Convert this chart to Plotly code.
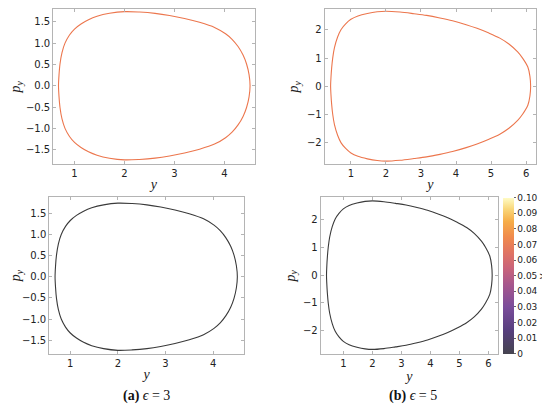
import plotly.graph_objects as go

# ---- orbit data (y, p_y) ----
# epsilon = 3
y_eps3 = [0.68, 0.69, 0.71, 0.75, 0.81, 0.90, 1.00, 1.13, 1.28, 1.45, 1.70, 2.00,
          2.30, 2.61, 2.90, 3.20, 3.50, 3.80, 4.02, 4.15, 4.27, 4.37, 4.44, 4.49, 4.51,
          4.49, 4.44, 4.37, 4.27, 4.15, 4.02, 3.80, 3.50, 3.20, 2.90, 2.61, 2.30, 2.00,
          1.70, 1.45, 1.28, 1.13, 1.00, 0.90, 0.81, 0.75, 0.71, 0.69, 0.68]
py_eps3 = [0.00, 0.25, 0.51, 0.78, 1.00, 1.19, 1.33, 1.45, 1.55, 1.63, 1.70, 1.74,
           1.73, 1.70, 1.65, 1.58, 1.49, 1.37, 1.22, 1.09, 0.92, 0.72, 0.51, 0.26, 0.00,
           -0.26, -0.51, -0.72, -0.92, -1.09, -1.22, -1.37, -1.49, -1.58, -1.65, -1.70, -1.73, -1.74,
           -1.70, -1.63, -1.55, -1.45, -1.33, -1.19, -1.00, -0.78, -0.51, -0.25, 0.00]

# epsilon = 5
y_eps5 = [0.42, 0.43, 0.45, 0.48, 0.53, 0.62, 0.72, 0.85, 1.00, 1.20, 1.47, 1.75, 2.00,
          2.40, 2.80, 3.16, 3.54, 3.90, 4.29, 4.60, 4.94, 5.25, 5.51, 5.76, 5.90, 6.05, 6.11, 6.13,
          6.11, 6.05, 5.90, 5.76, 5.51, 5.25, 4.94, 4.60, 4.29, 3.90, 3.54, 3.16, 2.80, 2.40,
          2.00, 1.75, 1.47, 1.20, 1.00, 0.85, 0.72, 0.62, 0.53, 0.48, 0.45, 0.43, 0.42]
py_eps5 = [0.00, 0.30, 0.65, 1.00, 1.37, 1.75, 2.02, 2.22, 2.38, 2.50, 2.59, 2.65, 2.67,
           2.64, 2.58, 2.52, 2.43, 2.33, 2.19, 2.06, 1.89, 1.71, 1.50, 1.22, 1.00, 0.68, 0.35, 0.00,
           -0.35, -0.68, -1.00, -1.22, -1.50, -1.71, -1.89, -2.06, -2.19, -2.33, -2.43, -2.52, -2.58, -2.64,
           -2.67, -2.65, -2.59, -2.50, -2.38, -2.22, -2.02, -1.75, -1.37, -1.00, -0.65, -0.30, 0.00]

# colour bar (lambda)
lam_ticks = [0, 0.01, 0.02, 0.03, 0.04, 0.05, 0.06, 0.07, 0.08, 0.09, 0.10]
lam_labels = ["0", "0.01", "0.02", "0.03", "0.04", "0.05", "0.06", "0.07", "0.08", "0.09", "0.10"]

ORANGE = "#ec764d"
DARK = "#3a3a3a"
FRAME = "#b4b4b4"
TICKFONT = dict(family="DejaVu Sans", size=10, color="#222")
SERIF = "Liberation Serif"

LAMBDA_SCALE = [
    [0.0, "#45444f"], [0.15, "#573f7e"], [0.3, "#7a4c9a"], [0.45, "#a8578c"],
    [0.55, "#c9637a"], [0.65, "#e07464"], [0.75, "#f08a4c"], [0.85, "#f6ad48"],
    [0.93, "#f9d77a"], [1.0, "#fffbc4"],
]

# page body has an 8px margin, so the figure is laid out in a 542x403 box
W, H, OFF = 542, 403, 8


def px_x(v):
    return (v - OFF) / W


def px_y(v):
    return 1 - (v - OFF) / H


fig = go.Figure()

panels = [
    ("x", "y", y_eps3, py_eps3, ORANGE),
    ("x2", "y2", y_eps5, py_eps5, ORANGE),
    ("x3", "y3", y_eps3, py_eps3, DARK),
    ("x4", "y4", y_eps5, py_eps5, DARK),
]
for xa, ya, xs, ys, col in panels:
    fig.add_trace(go.Scatter(
        x=xs, y=ys, xaxis=xa, yaxis=ya, mode="lines",
        line=dict(color=col, width=1.1, shape="spline", smoothing=0.9),
        showlegend=False, hoverinfo="skip",
    ))

# dummy trace that only carries the colour bar
fig.add_trace(go.Scatter(
    x=[None], y=[None], xaxis="x4", yaxis="y4", mode="markers",
    marker=dict(
        color=[0, 0.1], cmin=0, cmax=0.1, colorscale=LAMBDA_SCALE, showscale=True,
        colorbar=dict(
            x=px_x(502), xanchor="left", xpad=0, y=px_y(275.3), yanchor="middle", ypad=0,
            len=156 / H, lenmode="fraction", thickness=11, thicknessmode="pixels",
            outlinewidth=0, ticks="outside", ticklen=2, tickcolor="#666",
            tickmode="array", tickvals=lam_ticks, ticktext=lam_labels,
            tickfont=dict(family="DejaVu Sans", size=9, color="#222"),
        ),
    ),
    showlegend=False, hoverinfo="skip",
))


def xax(x0, x1, rng, ticks, anchor):
    return dict(
        domain=[px_x(x0), px_x(x1)], range=rng, tickvals=ticks, anchor=anchor,
        showline=True, linecolor=FRAME, linewidth=1, mirror="ticks",
        ticks="inside", ticklen=3, tickcolor=FRAME, showgrid=False, zeroline=False,
        tickfont=TICKFONT,
        title=dict(text="<i>y</i>", font=dict(family=SERIF, size=14, color="#222"), standoff=1),
    )


def yax(y0, y1, rng, ticks, anchor, fmt):
    return dict(
        domain=[px_y(y1), min(px_y(y0), 1.0)], range=rng, tickvals=ticks, anchor=anchor, tickformat=fmt,
        showline=True, linecolor=FRAME, linewidth=1, mirror="ticks",
        ticks="inside", ticklen=3, tickcolor=FRAME, showgrid=False, zeroline=False,
        tickfont=TICKFONT,
        title=dict(text="<i>p</i><sub><i>y</i></sub>", font=dict(family=SERIF, size=14, color="#222"),
                   standoff=4),
    )


fig.update_layout(
    width=W, height=H,
    margin=dict(l=0, r=0, t=0, b=0),
    paper_bgcolor="white", plot_bgcolor="white",
    xaxis=xax(46.7, 250.7, [0.574, 4.60], [1, 2, 3, 4], "y"),
    yaxis=yax(8.5, 163.3, [-1.835, 1.79], [-1.5, -1.0, -0.5, 0, 0.5, 1.0, 1.5], "x", ".1f"),
    xaxis2=xax(321.7, 535.7, [0.25, 6.28], [1, 2, 3, 4, 5, 6], "y2"),
    yaxis2=yax(8.5, 163.3, [-2.77, 2.73], [-2, -1, 0, 1, 2], "x2", "d"),
    xaxis3=xax(42.7, 240.0, [0.558, 4.65], [1, 2, 3, 4], "y3"),
    yaxis3=yax(196.7, 354.0, [-1.83, 1.88], [-1.5, -1.0, -0.5, 0, 0.5, 1.0, 1.5], "x3", ".1f"),
    xaxis4=xax(317.7, 497.3, [0.22, 6.33], [1, 2, 3, 4, 5, 6], "y4"),
    yaxis4=yax(196.7, 354.0, [-2.84, 2.80], [-2, -1, 0, 1, 2], "x4", "d"),
    annotations=[
        dict(text="<b>(a)</b> <i>ϵ</i> = 3", x=px_x(141), y=px_y(396), xref="paper", yref="paper",
             xanchor="center", yanchor="middle",
             showarrow=False, font=dict(family=SERIF, size=14, color="#111")),
        dict(text="<b>(b)</b> <i>ϵ</i> = 5", x=px_x(411), y=px_y(396), xref="paper", yref="paper",
             xanchor="center", yanchor="middle",
             showarrow=False, font=dict(family=SERIF, size=14, color="#111")),
        dict(text="λ", x=px_x(544), y=px_y(276), xref="paper", yref="paper", textangle=90,
             xanchor="center", yanchor="middle",
             showarrow=False, font=dict(family="DejaVu Sans", size=10, color="#222")),
    ],
)

fig.write_html("out.html")
